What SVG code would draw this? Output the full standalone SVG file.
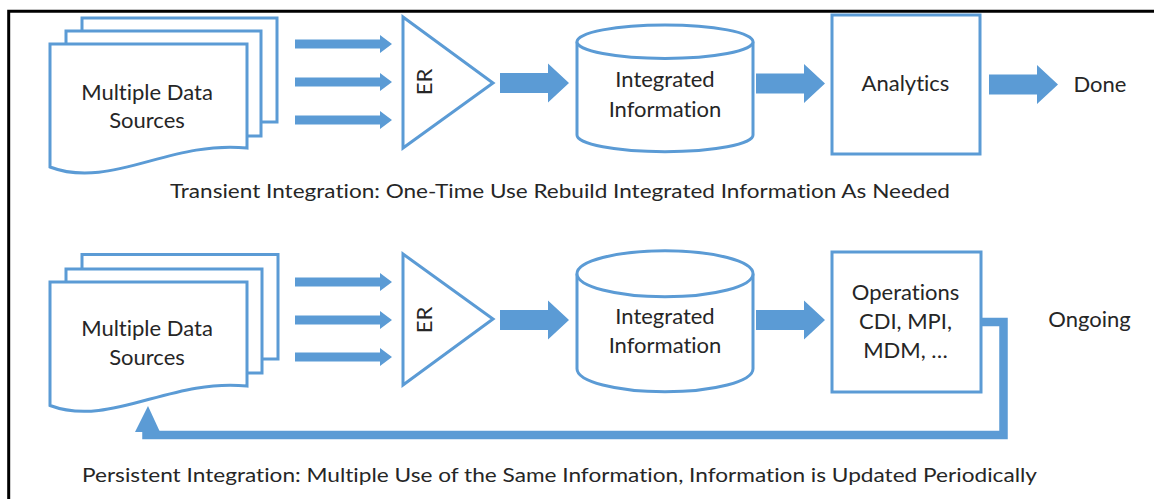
<svg xmlns="http://www.w3.org/2000/svg" xmlns:xlink="http://www.w3.org/1999/xlink" width="1154" height="499" viewBox="0 0 1154 499">
  <style>
    .shape { fill: #ffffff; stroke: #5B9BD5; stroke-width: 3; }
    .arrow { fill: #5B9BD5; stroke: none; }
    .lbl { font-family: Lato, "Open Sans", "Liberation Sans", sans-serif; font-size: 22px; fill: #262626; text-anchor: middle; font-variant-ligatures: none; }
    .cap { font-family: Lato, "Open Sans", "Liberation Sans", sans-serif; font-size: 19.5px; fill: #262626; font-variant-ligatures: none; }
  </style>
  <defs>
    <path id="sa" d="M0,-4.5 H85 V-9 L97,0 L85,9 V4.5 H0 Z"/>
    <path id="ba" d="M0,-10 H48 V-19.5 L69,0 L48,19.5 V10 H0 Z"/>
  </defs>
  <rect x="0" y="0" width="1154" height="499" fill="#ffffff"/>
  <path d="M8.7,499 V11.3 H1154" fill="none" stroke="#000000" stroke-width="3"/>

  <!-- Top row -->
  <g id="docs-top">
    <rect class="shape" x="82" y="18" width="195" height="104"/>
    <rect class="shape" x="66" y="31" width="195" height="105"/>
    <path class="shape" d="M50,44 H247 V148 C170,140 110,190 50,167 Z"/>
    <text class="lbl" x="147" y="100">Multiple Data</text>
    <text class="lbl" x="147" y="128">Sources</text>
  </g>
  <g id="er-top">
    <polygon class="shape" points="403,17 493,83 403,148"/>
    <text class="lbl" transform="translate(432,82) rotate(-90)" font-size="18">ER</text>
  </g>
  <g id="db-top">
    <path class="shape" d="M577,41.7 V135 A88,16.7 0 0 0 753,135 V41.7"/>
    <ellipse class="shape" cx="665" cy="41.7" rx="88" ry="16.7"/>
    <text class="lbl" x="665" y="87">Integrated</text>
    <text class="lbl" x="665" y="117">Information</text>
  </g>
  <g id="analytics">
    <rect class="shape" x="832" y="15" width="148" height="139"/>
    <text class="lbl" x="905.5" y="91">Analytics</text>
  </g>
  <g id="done">
    <text class="lbl" x="1100" y="92">Done</text>
  </g>
  <text class="cap" x="170" y="198" textLength="780" lengthAdjust="spacingAndGlyphs">Transient Integration: One-Time Use Rebuild Integrated Information As Needed</text>

  <!-- Bottom row -->
  <g id="docs-bottom">
    <rect class="shape" x="82" y="254.5" width="196" height="104.5"/>
    <rect class="shape" x="66" y="269" width="196" height="104"/>
    <path class="shape" d="M50,282 H247 V386 C170,378 110,428 50,405.5 Z"/>
    <text class="lbl" x="147" y="336">Multiple Data</text>
    <text class="lbl" x="147" y="365">Sources</text>
  </g>
  <g id="er-bottom">
    <polygon class="shape" points="403,254 493,319 403,385"/>
    <text class="lbl" transform="translate(432,320) rotate(-90)" font-size="18">ER</text>
  </g>
  <g id="db-bottom">
    <path class="shape" d="M577,273.7 V368.7 A88,23 0 0 0 753,368.7 V273.7"/>
    <ellipse class="shape" cx="665" cy="273.7" rx="88" ry="23"/>
    <text class="lbl" x="665" y="324">Integrated</text>
    <text class="lbl" x="665" y="353">Information</text>
  </g>
  <g id="operations">
    <rect class="shape" x="832" y="252" width="149" height="140"/>
    <text class="lbl" x="905.5" y="300">Operations</text>
    <text class="lbl" x="905.5" y="329">CDI, MPI,</text>
    <text class="lbl" x="905.5" y="358">MDM, …</text>
  </g>
  <g id="ongoing">
    <text class="lbl" x="1089.5" y="327">Ongoing</text>
  </g>
  <text class="cap" x="82" y="482" textLength="955" lengthAdjust="spacingAndGlyphs">Persistent Integration: Multiple Use of the Same Information, Information is Updated Periodically</text>

  <!-- Connectors -->
  <g id="connectors">
    <use class="arrow" href="#sa" xlink:href="#sa" x="295" y="44"/>
    <use class="arrow" href="#sa" xlink:href="#sa" x="295" y="82"/>
    <use class="arrow" href="#sa" xlink:href="#sa" x="295" y="120"/>
    <use class="arrow" href="#ba" xlink:href="#ba" x="500" y="83"/>
    <use class="arrow" href="#ba" xlink:href="#ba" x="756" y="83.5"/>
    <use class="arrow" href="#ba" xlink:href="#ba" x="989" y="84.5"/>

    <use class="arrow" href="#sa" xlink:href="#sa" x="295" y="282"/>
    <use class="arrow" href="#sa" xlink:href="#sa" x="295" y="320"/>
    <use class="arrow" href="#sa" xlink:href="#sa" x="295" y="357"/>
    <use class="arrow" href="#ba" xlink:href="#ba" x="500" y="320"/>
    <use class="arrow" href="#ba" xlink:href="#ba" x="756" y="320"/>

    <path d="M981,322 H1003.5 V435 H146.5 V428" fill="none" stroke="#5B9BD5" stroke-width="8.5" stroke-linejoin="miter"/>
    <polygon class="arrow" points="135,432 160,432 148,406"/>
  </g>
</svg>
